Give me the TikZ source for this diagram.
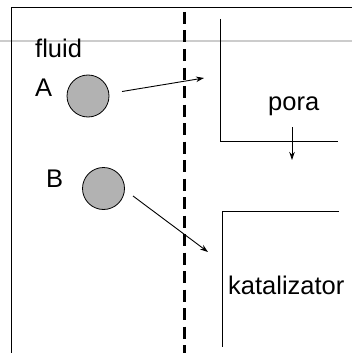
\documentclass[tikz,border=0pt]{standalone}
\usepackage{fontspec}
\setmainfont{Liberation Sans}
\usetikzlibrary{arrows.meta}

\begin{document}
\begin{tikzpicture}[
    x=1pt, y=-1pt,
    >={Stealth[length=8pt, width=5.5pt]},
    wall/.style={line width=1pt},
    molecule/.style={circle, draw, fill=black!30, minimum size=42pt, inner sep=0pt, line width=0.8pt},
    txt/.style={anchor=base west, inner sep=0pt, font=\fontsize{25.5}{30}\selectfont},
    flow/.style={->, line width=0.9pt}
]
    \useasboundingbox (0,0) rectangle (352,353);

    % Frame and stray grey rule
    \draw[black!20, line width=1.5pt] (0,41) -- (352,41);
    \draw[wall] (352,8) -- (11.5,8) -- (11.5,353);

    % Boundary layer (dashed)
    \draw[line width=3pt, dash pattern=on 12pt off 6.5pt] (184,12) -- (184,353);

    % Pore walls
    \draw[wall] (220,19) -- (220,141) -- (338,141);
    \draw[wall] (339,211) -- (222,211) -- (222,347);

    % Molecules
    \node[molecule] (molA) at (88,96) {};
    \node[molecule] (molB) at (103.5,188.5) {};

    % Labels
    \node[txt] (fluid) at (35,58) {fluid};
    \node[txt] (labA) at (35,96) {A};
    \node[txt] (labB) at (46,187) {B};
    \node[txt] (pora) at (268,110) {pora};
    \node[txt] (kat) at (228,294) {katalizator};

    % Diffusion paths
    \coordinate (tailA) at (122,91.5);
    \coordinate (tipA) at (204,78);
    \coordinate (tailB) at (133,196);
    \coordinate (tipB) at (208,252);
    \coordinate (tailP) at (292,127);
    \coordinate (tipP) at (292,160);
    \draw[flow] (tailA) -- (tipA);
    \draw[flow] (tailB) -- (tipB);
    \draw[flow] (tailP) -- (tipP);

\end{tikzpicture}
\end{document}
